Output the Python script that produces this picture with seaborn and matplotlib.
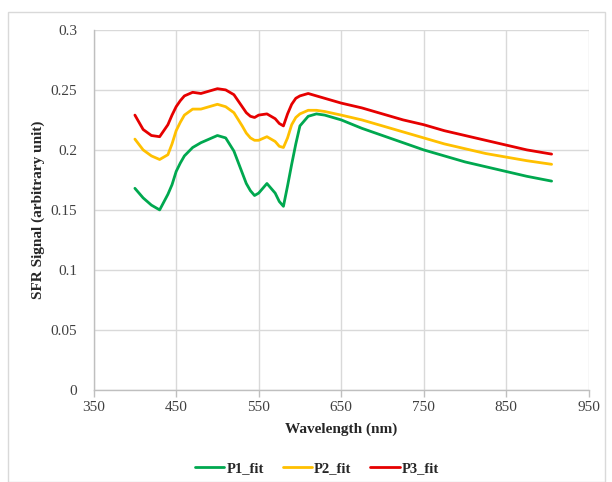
import matplotlib
matplotlib.use("Agg")
import matplotlib.pyplot as plt
import matplotlib.patches as mpatches
import pandas as pd
import seaborn as sns

# wavelengths (nm) and the three fitted SFR signals
wavelength = [400, 410, 420, 430, 440, 445, 450, 455, 460, 470, 480, 490, 500,
              510, 520, 530, 535, 540, 545, 550, 560, 570, 575, 580, 585, 590,
              595, 600, 610, 620, 630, 650, 675, 700, 725, 750, 775, 800, 825,
              850, 875, 905]
p1_fit = [0.168, 0.160, 0.154, 0.150, 0.163, 0.171, 0.182, 0.189, 0.195, 0.202,
          0.206, 0.209, 0.212, 0.210, 0.199, 0.181, 0.172, 0.166, 0.162, 0.164,
          0.172, 0.164, 0.157, 0.153, 0.170, 0.188, 0.205, 0.220, 0.228, 0.230,
          0.229, 0.225, 0.218, 0.212, 0.206, 0.200, 0.195, 0.190, 0.186, 0.182,
          0.178, 0.174]
p2_fit = [0.209, 0.200, 0.195, 0.192, 0.196, 0.205, 0.216, 0.223, 0.229, 0.234,
          0.234, 0.236, 0.238, 0.236, 0.231, 0.220, 0.214, 0.210, 0.208, 0.208,
          0.211, 0.207, 0.203, 0.202, 0.210, 0.221, 0.227, 0.230, 0.233, 0.233,
          0.232, 0.229, 0.225, 0.220, 0.215, 0.210, 0.205, 0.201, 0.197, 0.194,
          0.191, 0.188]
p3_fit = [0.229, 0.217, 0.212, 0.211, 0.221, 0.229, 0.236, 0.241, 0.245, 0.248,
          0.247, 0.249, 0.251, 0.250, 0.246, 0.236, 0.231, 0.228, 0.227, 0.229,
          0.230, 0.226, 0.222, 0.220, 0.230, 0.238, 0.243, 0.245, 0.247, 0.245,
          0.243, 0.239, 0.235, 0.230, 0.225, 0.221, 0.216, 0.212, 0.208, 0.204,
          0.200, 0.1965]
series_names = ["P1_fit", "P2_fit", "P3_fit"]
colors = ["#00a84f", "#ffc000", "#e60000"]

rows = []
for name, vals in zip(series_names, [p1_fit, p2_fit, p3_fit]):
    for w, v in zip(wavelength, vals):
        rows.append({"Wavelength": w, "Signal": v, "Series": name})
df = pd.DataFrame(rows)

sns.set_style("white")
plt.rcParams["font.family"] = ["Liberation Serif", "DejaVu Serif"]

fig = plt.figure(figsize=(6.12, 4.82), dpi=100)
ax = fig.add_axes([0.153, 0.191, 0.809, 0.747])

sns.lineplot(data=df, x="Wavelength", y="Signal", hue="Series",
             hue_order=series_names, palette=colors, linewidth=2,
             solid_joinstyle="round", ax=ax, legend=True)

ax.set_xlim(350, 950)
ax.set_ylim(0, 0.3)
ax.set_xticks(range(350, 951, 100))
ax.set_yticks([0, 0.05, 0.1, 0.15, 0.2, 0.25, 0.3])
ax.set_yticklabels(["0", "0.05", "0.1", "0.15", "0.2", "0.25", "0.3"])
ax.grid(True, color="#d9d9d9", linewidth=1)
ax.set_axisbelow(True)

for side in ["top", "right"]:
    ax.spines[side].set_visible(False)
for side in ["left", "bottom"]:
    ax.spines[side].set_color("#bfbfbf")
    ax.spines[side].set_linewidth(1)

ax.tick_params(axis="x", direction="out", length=5, width=1, color="#bfbfbf",
               labelsize=11, labelcolor="#404040", pad=3, bottom=True)
ax.tick_params(axis="y", length=0, labelsize=11, labelcolor="#404040", pad=12)

ax.set_xlabel("Wavelength (nm)", fontsize=11, fontweight="bold", color="#262626",
              labelpad=6)
ax.set_ylabel("SFR Signal (arbitrary unit)", fontsize=11, fontweight="bold",
              color="#262626", labelpad=4)

handles, labels = ax.get_legend_handles_labels()
ax.legend(handles, labels, loc="center", bbox_to_anchor=(0.518, 0.028),
          bbox_transform=fig.transFigure, ncol=3, frameon=False,
          prop={"weight": "bold", "size": 10.5}, handlelength=2.0,
          handletextpad=0.15, columnspacing=1.3, borderpad=0.2)

# thin chart-area frame like the spreadsheet export
fig.patches.append(mpatches.Rectangle((0.013, 0.0), 0.975, 0.975,
                                      transform=fig.transFigure, fill=False,
                                      edgecolor="#d9d9d9", linewidth=1))

fig.savefig("out.png", dpi=100)
